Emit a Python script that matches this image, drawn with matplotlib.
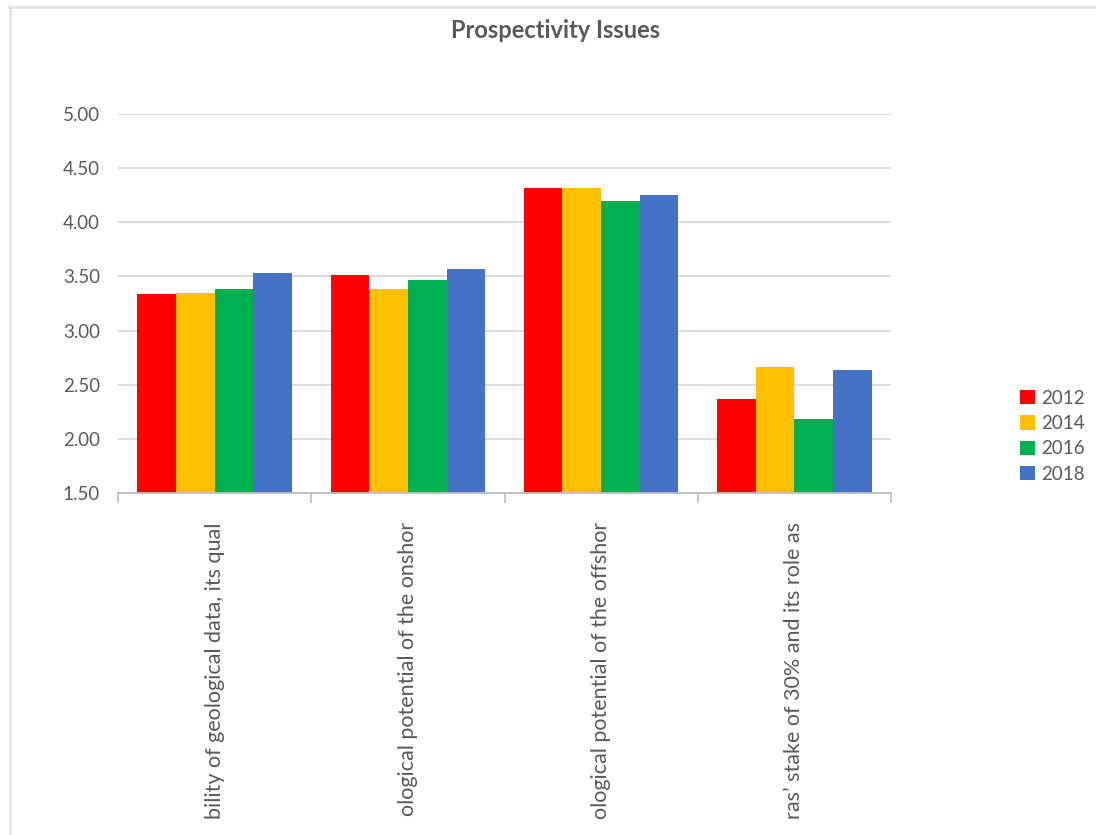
import matplotlib
matplotlib.use("Agg")
import matplotlib.pyplot as plt
from matplotlib.lines import Line2D
import numpy as np

plt.rcParams['font.family'] = ['Lato', 'DejaVu Sans']

categories = [
    "bility of geological data, its qual",
    "ological potential of the onshor",
    "ological potential of the offshor",
    "ras\u2019 stake of 30% and its role as",
]
years = ["2012", "2014", "2016", "2018"]
values_2012 = [3.34, 3.51, 4.32, 2.37]
values_2014 = [3.35, 3.38, 4.32, 2.66]
values_2016 = [3.38, 3.47, 4.20, 2.18]
values_2018 = [3.53, 3.57, 4.25, 2.64]
series = [values_2012, values_2014, values_2016, values_2018]
colors = ["#FF0000", "#FFC000", "#00B050", "#4472C4"]
yticks = [1.5, 2.0, 2.5, 3.0, 3.5, 4.0, 4.5, 5.0]

W, H = 1096, 835
fig = plt.figure(figsize=(W / 100, H / 100), dpi=100)
ax = fig.add_axes([118 / W, 1 - 493 / H, (891 - 118) / W, (493 - 114) / H])

x = np.arange(len(categories))
bw = 0.2
for i, (vals, col, yr) in enumerate(zip(series, colors, years)):
    ax.bar(x + (i - 1.5) * bw, np.array(vals) - 1.5, bw, bottom=1.5,
           color=col, label=yr, zorder=3, linewidth=0)

ax.set_xlim(-0.5, len(categories) - 0.5)
ax.set_ylim(1.5, 5.0)
ax.set_yticks(yticks)
ax.set_yticklabels([f"{v:.2f}" for v in yticks])
ax.yaxis.grid(True, color="#d9d9d9", linewidth=1.3, zorder=0)
ax.tick_params(axis='y', length=0, pad=13, labelsize=13.5, labelcolor="#595959")

ax.set_xticks(x)
ax.set_xticklabels(categories, rotation=90, va='top', ha='center')
ax.tick_params(axis='x', which='major', length=0, pad=21, labelsize=15.5, labelcolor="#595959")
ax.set_xticks(np.arange(len(categories) + 1) - 0.5, minor=True)
ax.tick_params(axis='x', which='minor', length=7, width=1.2, color="#bfbfbf", direction='out')

for s in ['top', 'right', 'left']:
    ax.spines[s].set_visible(False)
ax.spines['bottom'].set_color("#bfbfbf")
ax.spines['bottom'].set_linewidth(1.3)
ax.spines['bottom'].set_zorder(4)

fig.text(556 / W, 1 - 30 / H, "Prospectivity Issues", ha='center', va='center',
         fontsize=17, fontweight='bold', color="#595959")

leg = fig.legend(loc='upper left', bbox_to_anchor=(1012 / W, 1 - 382 / H),
                 frameon=False, fontsize=13.5, handlelength=0.8, handleheight=0.8,
                 handletextpad=0.35, labelspacing=0.45, borderaxespad=0)
for t in leg.get_texts():
    t.set_color("#595959")

fig.add_artist(Line2D([9 / W, 1], [1 - 6.5 / H, 1 - 6.5 / H], color="#e3e3e3", linewidth=2))
fig.add_artist(Line2D([9.5 / W, 9.5 / W], [0, 1 - 6 / H], color="#e3e3e3", linewidth=2))

fig.savefig("out.png", dpi=100)
